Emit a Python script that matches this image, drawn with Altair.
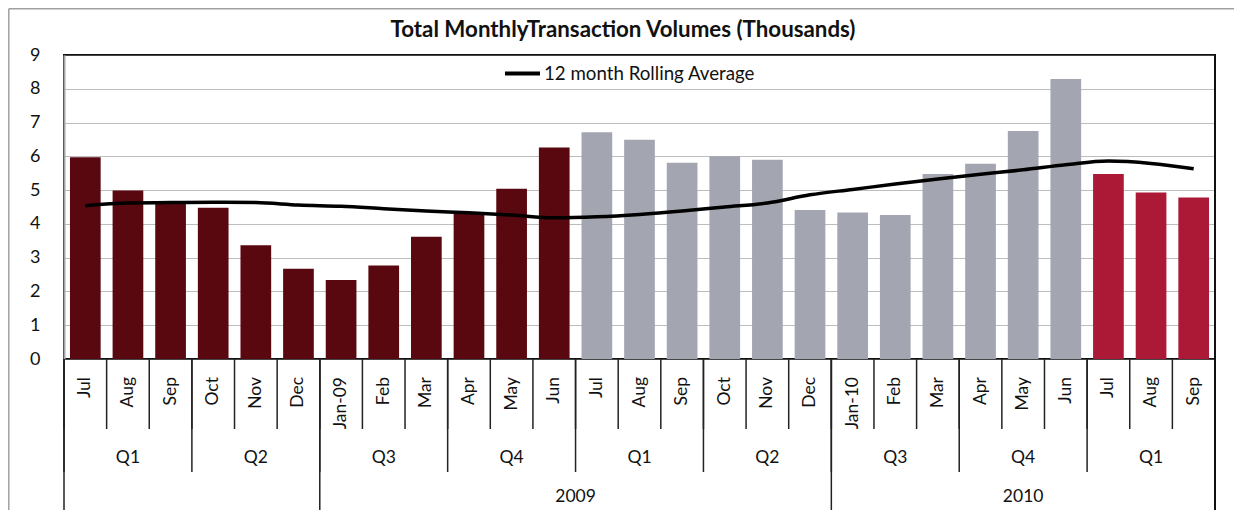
import altair as alt
import pandas as pd

# ---- data ----
month_ids = ["2008-07", "2008-08", "2008-09", "2008-10", "2008-11", "2008-12",
             "2009-01", "2009-02", "2009-03", "2009-04", "2009-05", "2009-06",
             "2009-07", "2009-08", "2009-09", "2009-10", "2009-11", "2009-12",
             "2010-01", "2010-02", "2010-03", "2010-04", "2010-05", "2010-06",
             "2010-07", "2010-08", "2010-09"]
month_labels = ["Jul", "Aug", "Sep", "Oct", "Nov", "Dec", "Jan-09", "Feb", "Mar",
                "Apr", "May", "Jun", "Jul", "Aug", "Sep", "Oct", "Nov", "Dec",
                "Jan-10", "Feb", "Mar", "Apr", "May", "Jun", "Jul", "Aug", "Sep"]
volumes = [5.97, 4.99, 4.60, 4.48, 3.37, 2.67, 2.34, 2.77, 3.62, 4.32, 5.04, 6.26,
           6.71, 6.49, 5.81, 6.00, 5.90, 4.41, 4.34, 4.26, 5.48, 5.78, 6.75, 8.29,
           5.48, 4.93, 4.78]
rolling_avg = [4.54, 4.62, 4.63, 4.64, 4.63, 4.56, 4.52, 4.45, 4.38, 4.33, 4.26, 4.18,
               4.21, 4.28, 4.38, 4.50, 4.62, 4.86, 5.02, 5.18, 5.33, 5.47, 5.60, 5.75,
               5.86, 5.79, 5.63]
fiscal_year = ["FY09"] * 12 + ["FY10"] * 12 + ["FY11"] * 3
quarter_labels = ["Q1", "Q2", "Q3", "Q4", "Q1", "Q2", "Q3", "Q4", "Q1"]
year_labels = ["2009", "2010"]

series_name = "12 month Rolling Average"
title_text = "Total MonthlyTransaction Volumes (Thousands)"

FONT = "Lato"
W, H = 1151, 304
PAD_L, PAD_T, PAD_R, PAD_B = 56, 47, 19, 170

df = pd.DataFrame({
    "key": month_ids, "month": month_labels, "volume": volumes,
    "avg": rolling_avg, "fy": fiscal_year, "series": series_name,
})

def level(i, lab):
    if i == 0 or lab.startswith("Jan"):
        return "year"
    if lab in ("Jul", "Oct", "Apr"):
        return "quarter"
    return "month"

df["level"] = [level(i, m) for i, m in enumerate(month_labels)]

df_q = pd.DataFrame({"key": [month_ids[3 * i + 1] for i in range(len(quarter_labels))],
                     "label": quarter_labels})
df_y09 = pd.DataFrame({"key": ["2009-07"], "label": [year_labels[0]]})
df_y10 = pd.DataFrame({"key": ["2010-05"], "label": [year_labels[1]]})
df_title = pd.DataFrame({"t": [title_text]})
one = pd.DataFrame({"a": [0]})

xscale = alt.Scale(domain=month_ids, paddingInner=0, paddingOuter=0)
yscale = alt.Scale(domain=[0, 9], nice=False, zero=True)

def X(band=None):
    if band is None:
        return alt.X("key:O", scale=xscale, sort=month_ids, axis=None)
    return alt.X("key:O", scale=xscale, sort=month_ids, axis=None, bandPosition=band)

yaxis = alt.Axis(values=[0, 1, 2, 3, 4, 5, 6, 7, 8, 9], grid=True, gridDash=[1, 1],
                 gridColor="#7a7a7a", gridWidth=1, domainColor="#a6a6a6", domainWidth=2,
                 ticks=False, labelOverlap=False, labelFont=FONT, labelFontSize=18,
                 labelColor="#111", labelPadding=24, title=None)

bars = alt.Chart(df).mark_bar(width=alt.RelativeBandSize(0.72)).encode(
    x=X(),
    y=alt.Y("volume:Q", scale=yscale, axis=yaxis),
    color=alt.Color("fy:N", scale=alt.Scale(domain=["FY09", "FY10", "FY11"],
                                            range=["#5A0810", "#A3A6B0", "#AC1936"]),
                    legend=None),
)

line = alt.Chart(df).mark_line(interpolate="monotone", strokeWidth=3.5).encode(
    x=X(),
    y=alt.Y("avg:Q", scale=yscale, axis=yaxis),
    stroke=alt.Stroke("series:N", scale=alt.Scale(range=["black"]),
                      legend=alt.Legend(orient="none", legendX=439, legendY=-1, title=None,
                                        symbolType="stroke", symbolStrokeWidth=3.8,
                                        symbolSize=1225, labelFont=FONT, labelFontSize=18.7,
                                        labelColor="#111", labelOffset=2, padding=0,
                                        labelLimit=0)),
)

sep_month = alt.Chart(df).mark_rule(color="#222", strokeWidth=1.5).encode(
    x=X(0), y=alt.value(H), y2=alt.value(H + 70))
sep_quarter = alt.Chart(df).transform_filter(
    alt.FieldOneOfPredicate(field="level", oneOf=["quarter", "year"])
).mark_rule(color="#222", strokeWidth=1.5).encode(
    x=X(0), y=alt.value(H), y2=alt.value(H + 113))
sep_year = alt.Chart(df).transform_filter(
    alt.FieldEqualPredicate(field="level", equal="year")
).mark_rule(color="#222", strokeWidth=1.5).encode(
    x=X(0), y=alt.value(H), y2=alt.value(H + PAD_B))
right_edge = alt.Chart(one).mark_rule(color="#111", strokeWidth=2).encode(
    x=alt.value(W), y=alt.value(0), y2=alt.value(H + PAD_B))
outer_top = alt.Chart(one).mark_rule(color="#a0a0a0", strokeWidth=1.5).encode(
    x=alt.value(-PAD_L + 0.8), x2=alt.value(W + PAD_R), y=alt.value(-PAD_T + 0.8))
outer_left = alt.Chart(one).mark_rule(color="#a0a0a0", strokeWidth=1.5).encode(
    x=alt.value(-PAD_L + 0.8), y=alt.value(-PAD_T + 0.8), y2=alt.value(H + PAD_B))

title = alt.Chart(df_title).mark_text(font=FONT, fontSize=22.3, fontWeight="bold",
                                      color="#111", baseline="middle", align="center").encode(
    x=alt.value(559), y=alt.value(-25), text="t:N")

month_text = alt.Chart(df).mark_text(angle=270, align="right", baseline="middle",
                                     font=FONT, fontSize=17.5, color="#111").encode(
    x=X(), y=alt.value(H + 18), text="month:N")
quarter_text = alt.Chart(df_q).mark_text(baseline="middle", font=FONT, fontSize=17.5,
                                         color="#111").encode(
    x=X(), y=alt.value(H + 99), text="label:N")
y09_text = alt.Chart(df_y09).mark_text(baseline="middle", font=FONT, fontSize=17.5,
                                       color="#111").encode(
    x=X(0), y=alt.value(H + 138), text="label:N")
y10_text = alt.Chart(df_y10).mark_text(baseline="middle", font=FONT, fontSize=17.5,
                                       color="#111").encode(
    x=X(), y=alt.value(H + 138), text="label:N")

chart = alt.layer(
    outer_top, outer_left, bars, line, sep_month, sep_quarter, sep_year, right_edge,
    title, month_text, quarter_text, y09_text, y10_text,
).properties(
    width=W, height=H,
    autosize=alt.AutoSizeParams(type="none"),
    padding={"left": PAD_L, "top": PAD_T, "right": PAD_R, "bottom": PAD_B},
).configure_view(stroke="#111", strokeWidth=2)

chart.save("out.html", embed_options={"renderer": "svg", "actions": False})
